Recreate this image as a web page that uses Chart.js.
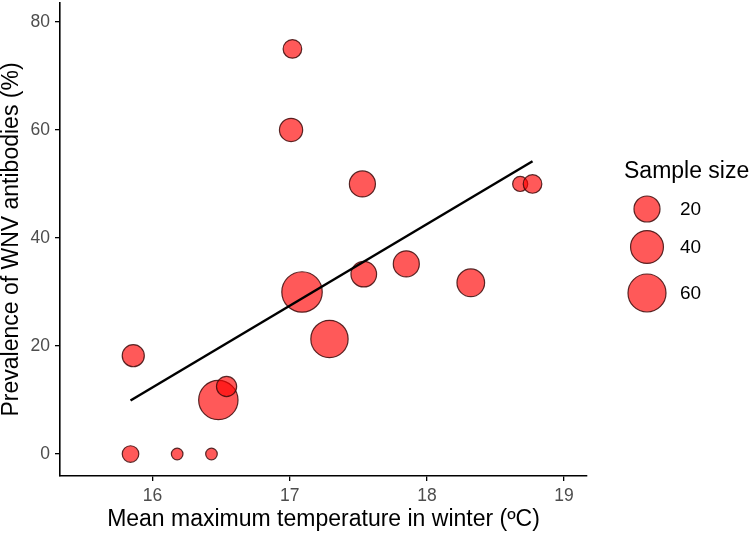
<!DOCTYPE html>
<html>
<head>
<meta charset="utf-8">
<script src="https://cdn.jsdelivr.net/npm/chart.js@4"></script>
<style>
  html, body { margin: 0; padding: 0; background: #fff; }
  #wrap { width: 750px; height: 534px; position: relative; }
</style>
</head>
<body>
<div id="wrap"><canvas id="bubbleChart"></canvas></div>
<script>
// data
const temperature = [15.84, 15.86, 16.18, 16.43, 16.48, 16.54, 17.02, 17.01, 17.53, 17.09, 17.54, 17.85, 17.29, 18.32, 18.68, 18.77];
const prevalence = [0, 18.2, 0, 0, 10, 12.5, 75, 60, 50, 30, 33.3, 35.2, 21.3, 31.7, 50, 50];
const sampleSize = [5, 12, 3, 3, 66, 9, 7, 14, 20, 71, 19, 20, 57, 24, 4, 7];

// fitted line ends
const fitTemp = [15.84, 18.77];
const fitPrev = [9.9, 54.2];

const xTicks = [16, 17, 18, 19];
const yTicks = [0, 20, 40, 60, 80];
const legendSizes = [20, 40, 60];

const FONT = "'Liberation Sans', Arial, Helvetica, sans-serif";
const fill = "rgba(255, 0, 0, 0.65)";
const stroke = "rgba(60, 10, 10, 0.85)";
const strokeW = 1.2;

// size scale (outer radius in px)
function sizeToRadius(n) {
  return 6.4 + 1.75 * Math.sqrt(Math.max(0, n - 3));
}

const points = temperature.map((t, i) => ({
  x: t,
  y: prevalence[i],
  r: sizeToRadius(sampleSize[i]) - strokeW / 2,
}));
const fitLine = fitTemp.map((t, i) => ({ x: t, y: fitPrev[i] }));

// legend on the right
const sizeLegend = {
  id: "sizeLegend",
  afterDraw(chart) {
    const c = chart.ctx;
    c.save();
    c.fillStyle = "#000";
    c.textBaseline = "middle";
    c.textAlign = "left";
    c.font = "23px " + FONT;
    c.fillText("Sample size", 624, 172);
    const ys = [209, 247, 293];
    legendSizes.forEach((n, i) => {
      c.beginPath();
      c.arc(647, ys[i], sizeToRadius(n) - strokeW / 2, 0, Math.PI * 2);
      c.fillStyle = fill;
      c.fill();
      c.lineWidth = strokeW;
      c.strokeStyle = stroke;
      c.stroke();
      c.fillStyle = "#000";
      c.font = "19px " + FONT;
      c.fillText(String(n), 680, ys[i] + 1);
    });
    c.restore();
  },
};

const ctx = document.getElementById("bubbleChart");
new Chart(ctx, {
  type: "bubble",
  data: {
    datasets: [
      {
        type: "line",
        data: fitLine,
        borderColor: "#000",
        borderWidth: 2.5,
        pointRadius: 0,
        fill: false,
        order: 0,
      },
      {
        data: points,
        backgroundColor: fill,
        borderColor: stroke,
        borderWidth: strokeW,
        hoverRadius: 0,
        order: 1,
      },
    ],
  },
  options: {
    responsive: true,
    maintainAspectRatio: false,
    animation: false,
    layout: { autoPadding: false, padding: { top: 3, right: 163, bottom: 0, left: 0 } },
    plugins: {
      legend: { display: false },
      tooltip: { enabled: false },
    },
    scales: {
      x: {
        type: "linear",
        min: 15.326,
        max: 19.167,
        afterBuildTicks: (s) => { s.ticks = xTicks.map((v) => ({ value: v })); },
        afterFit: (s) => { s.height = 58; s.paddingLeft = 0; s.paddingRight = 0; },
        grid: { drawOnChartArea: false, drawTicks: true, tickLength: 5, color: "#000", lineWidth: 1.3 },
        border: { color: "#000", width: 1.6 },
        ticks: { color: "#4d4d4d", padding: 5, font: { family: FONT, size: 17.5 } },
        title: {
          display: true,
          text: "Mean maximum temperature in winter (ºC)",
          color: "#000",
          font: { family: FONT, size: 23, lineHeight: 1 },
          padding: { top: 0, bottom: 3 },
        },
      },
      y: {
        type: "linear",
        min: -4.07,
        max: 83.5,
        afterBuildTicks: (s) => { s.ticks = yTicks.map((v) => ({ value: v })); },
        afterFit: (s) => { s.width = 60; s.paddingTop = 0; s.paddingBottom = 0; },
        grid: { drawOnChartArea: false, drawTicks: true, tickLength: 5, color: "#000", lineWidth: 1.3 },
        border: { color: "#000", width: 1.6 },
        ticks: { color: "#4d4d4d", padding: 5, font: { family: FONT, size: 17.5 } },
        title: {
          display: true,
          text: "Prevalence of WNV antibodies (%)",
          color: "#000",
          font: { family: FONT, size: 23, lineHeight: 1 },
          padding: { top: 0, bottom: 0 },
        },
      },
    },
  },
  plugins: [sizeLegend],
});
</script>
</body>
</html>
